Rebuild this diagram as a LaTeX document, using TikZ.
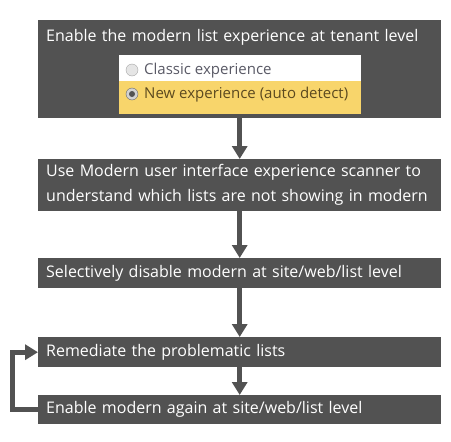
\documentclass[tikz,border=0pt]{standalone}
\usepackage{fontspec}
\setmainfont{Open Sans}
\usepackage{tikz}
\usetikzlibrary{arrows.meta, positioning}
\definecolor{boxgray}{HTML}{525252}
\definecolor{pickyellow}{HTML}{F8D56B}
\definecolor{pickgray}{HTML}{5A5A66}
\definecolor{pickbrown}{HTML}{5C4A20}
\tikzset{
    stepbox/.style={rectangle, fill=boxgray, text=white, minimum width=403pt, text width=387pt, inner xsep=8pt, align=left, anchor=north west, font=\fontsize{16}{25}\selectfont},
    flow/.style={draw=boxgray, line width=5pt, -{Triangle[width=15pt, length=13pt]}},
    pick/.style={font=\fontsize{15}{17}\selectfont, anchor=west, inner sep=0pt},
    radio/.style={circle, draw=gray!70, fill=gray!20, minimum size=12pt, inner sep=0pt},
}

\begin{document}
\begin{tikzpicture}[x=1pt, y=-1pt]
    \useasboundingbox (0,0) rectangle (451,442);
    % tenant level box with the picker
    \node[stepbox, minimum height=98pt] (box1) at (38,20) {};
    \node[stepbox, minimum height=0pt, inner ysep=9pt, fill=none] (t1) at (box1.north west) {Enable the modern list experience at tenant level};
    \fill[white] (119,55) rectangle (361,81);
    \fill[pickyellow] (119,81) rectangle (361,114);
    \node[radio] (r1) at (132,70) {};
    \node[radio, draw=gray!80!black, fill=gray!35] (r2) at (132,94) {};
    \fill[boxgray] (r2) circle (3pt);
    \node[pick, text=pickgray] (c1) at (144,71) {Classic experience};
    \node[pick, text=pickbrown] (c2) at (144,95) {New experience (auto detect)};
    % steps
    \node[stepbox, minimum height=52pt] (box2) at (38,159) {Use Modern user interface experience scanner to\\understand which lists are not showing in modern};
    \node[stepbox, minimum height=30pt] (box3) at (38,258) {Selectively disable modern at site/web/list level};
    \node[stepbox, minimum height=30pt] (box4) at (38,337) {Remediate the problematic lists};
    \node[stepbox, minimum height=29pt] (box5) at (38,395) {Enable modern again at site/web/list level};
    % connectors
    \draw[flow] (box1.south) -- (box2.north);
    \draw[flow] (box2.south) -- (box3.north);
    \draw[flow] (box3.south) -- (box4.north);
    \draw[flow] (box4.south) -- (box5.north);
    \draw[flow] (box5.west) -- ++(-26,0) |- (box4.west);
\end{tikzpicture}
\end{document}
